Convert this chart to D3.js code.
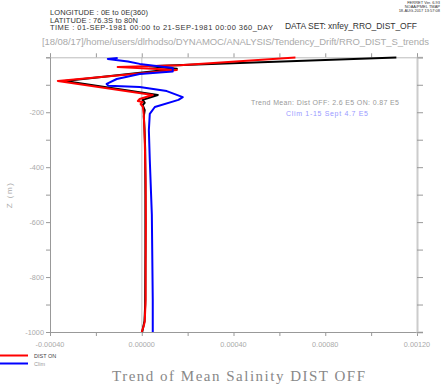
<!DOCTYPE html>
<html>
<meta charset="utf-8">
<script src="https://d3js.org/d3.v7.min.js"></script>
<style>
  body { margin: 0; background: #fff; }
</style>
<body>
<div id="chart"></div>
<script>
// ---- data (trend in psu/s, depth in m) ----
const offDepth = [1, 27, 33, 42, 86, 137, 155, 166, 174, 192, 214, 260, 337, 500, 700, 900, 960, 1000];
const offTrend = [11.1e-4, 2.1e-4, 0.35e-4, 1.53e-4, -3.36e-4, 0.70e-4, 0.04e-4, 0.13e-4, 0.04e-4, 0.13e-4, 0.09e-4, 0.12e-4, 0.15e-4, 0.16e-4, 0.16e-4, 0.15e-4, 0.12e-4, 0.02e-4];

const onDepth = [1, 29, 35, 46, 86, 137, 152, 159, 163, 170, 180, 210, 300, 446, 600, 750, 882, 962, 977, 1000];
const onTrend = [6.7e-4, 1.66e-4, -1.05e-4, 1.53e-4, -3.66e-4, 0.48e-4, -0.09e-4, -0.17e-4, 0.04e-4, -0.05e-4, 0.05e-4, 0.09e-4, 0.13e-4, 0.17e-4, 0.18e-4, 0.17e-4, 0.17e-4, 0.13e-4, 0.09e-4, 0.0];

const climDepth = [2.5, 6, 15, 24, 39, 52, 61, 79, 97, 104, 108, 123, 145, 155, 181, 206, 265, 373, 573, 882, 1000];
const climTrend = [-1.05e-4, -1.48e-4, -0.6e-4, -0.09e-4, 1.35e-4, 1.35e-4, -0.09e-4, -1.09e-4, -1.53e-4, -1.45e-4, -0.09e-4, 1.09e-4, 1.79e-4, 1.6e-4, 0.57e-4, 0.35e-4, 0.31e-4, 0.35e-4, 0.44e-4, 0.48e-4, 0.48e-4];

const xTickValues = [-0.0004, 0, 0.0004, 0.0008, 0.0012];
const xTickLabels = ["-0.00040", "0.00000", "0.00040", "0.00080", "0.00120"];
const zTickValues = [-200, -400, -600, -800, -1000];

const headerLines = ["LONGITUDE : 0E to 0E(360)", "LATITUDE : 76.3S to 80N", "TIME : 01-SEP-1981 00:00 to 21-SEP-1981 00:00 360_DAY"];
const headerWidths = [98, 88, 223];
const stampLines = ["FERRET Ver. 6.93", "NOAA/PMEL TMAP", "18-AUG-2017 13:57:08"];

// ---- layout ----
const W = 442, H = 384;
const plotL = 50, plotR = 417, plotT = 57.3, plotB = 332;
const sans = "'Liberation Sans', Arial, sans-serif";

const svg = d3.select("#chart").append("svg")
  .attr("width", W).attr("height", H)
  .style("font-family", sans);

const x = d3.scaleLinear().domain([-0.0004, 0.0012]).range([plotL, plotR]);
const y = d3.scaleLinear().domain([0, -1000]).range([plotT, plotB]);

// zero line
svg.append("line")
  .attr("x1", x(0)).attr("x2", x(0))
  .attr("y1", plotT).attr("y2", plotB)
  .attr("stroke", "#d8d8d8").attr("stroke-width", 1.5);

// axes
const minorX = d3.range(-0.0004, 0.00121, 0.0002);
const minorZ = d3.range(0, -1001, -100);

const gBottom = svg.append("g").attr("transform", "translate(0," + plotB + ")")
  .call(d3.axisBottom(x).tickValues(minorX).tickSize(4).tickFormat(""));
const gTop = svg.append("g").attr("transform", "translate(0," + plotT + ")")
  .call(d3.axisTop(x).tickValues(minorX).tickSize(4).tickFormat(""));
const gLeft = svg.append("g").attr("transform", "translate(" + plotL + ",0)")
  .call(d3.axisLeft(y).tickValues(minorZ).tickSize(4).tickFormat(""));
const gRight = svg.append("g").attr("transform", "translate(" + plotR + ",0)")
  .call(d3.axisRight(y).tickValues(minorZ).tickSize(6).tickFormat(""));

[gBottom, gTop, gLeft, gRight].forEach(function(g) {
  g.select(".domain").attr("stroke", "#999");
  g.selectAll(".tick line").attr("stroke", "#999");
});
gTop.select(".domain").attr("stroke", "#bbb");
gRight.select(".domain").attr("stroke", "#ccc").attr("stroke-width", 2);

// tick labels
svg.selectAll(".xlab").data(xTickValues).enter().append("text")
  .attr("x", function(d) { return x(d); })
  .attr("y", 347)
  .attr("text-anchor", "middle")
  .attr("font-size", 7.3)
  .attr("fill", "#aaa")
  .text(function(d, i) { return xTickLabels[i]; });

svg.selectAll(".zlab").data(zTickValues).enter().append("text")
  .attr("x", 44)
  .attr("y", function(d) { return y(d) + 2.5; })
  .attr("text-anchor", "end")
  .attr("font-size", 7.3)
  .attr("fill", "#aaa")
  .text(function(d) { return d; });

svg.append("text")
  .attr("transform", "translate(12,195) rotate(-90)")
  .attr("text-anchor", "middle")
  .attr("font-size", 8)
  .attr("letter-spacing", 1.5)
  .attr("fill", "#aaa")
  .text("Z (m)");

// profiles
const line = d3.line()
  .x(function(d) { return x(d[1]); })
  .y(function(d) { return y(-d[0]); });

function drawProfile(depth, trend, colour) {
  svg.append("path")
    .datum(depth.map(function(d, i) { return [d, trend[i]]; }))
    .attr("fill", "none")
    .attr("stroke", colour)
    .attr("stroke-width", 2)
    .attr("stroke-linejoin", "round")
    .attr("d", line);
}
drawProfile(offDepth, offTrend, "#000");
drawProfile(onDepth, onTrend, "#f00");
drawProfile(climDepth, climTrend, "#00f");

// header text
svg.selectAll(".hdr").data(headerLines).enter().append("text")
  .attr("x", 50)
  .attr("y", function(d, i) { return 15 + i * 7.7; })
  .attr("font-size", 7.5)
  .attr("fill", "#333")
  .attr("textLength", function(d, i) { return headerWidths[i]; })
  .text(function(d) { return d; });

svg.append("text")
  .attr("x", 285).attr("y", 29)
  .attr("font-size", 8.5).attr("fill", "#333")
  .attr("textLength", 132)
  .text("DATA SET: xnfey_RRO_DIST_OFF");

svg.append("text")
  .attr("x", 42).attr("y", 45)
  .attr("font-size", 9.5).attr("fill", "#aaa")
  .attr("textLength", 387)
  .text("[18/08/17]/home/users/dlrhodso/DYNAMOC/ANALYSIS/Tendency_Drift/RRO_DIST_S_trends");

svg.selectAll(".stamp").data(stampLines).enter().append("text")
  .attr("x", 440)
  .attr("y", function(d, i) { return 3.5 + i * 4.3; })
  .attr("text-anchor", "end")
  .attr("font-size", 4)
  .attr("fill", "#333")
  .text(function(d) { return d; });

// annotations
svg.append("text")
  .attr("x", 251).attr("y", 104.5)
  .attr("font-size", 7).attr("fill", "#999")
  .attr("textLength", 148)
  .text("Trend Mean: Dist OFF: 2.6 E5 ON: 0.87 E5");

svg.append("text")
  .attr("x", 286).attr("y", 115.5)
  .attr("font-size", 7).attr("fill", "#99f")
  .attr("textLength", 82)
  .text("Clim 1-15 Sept 4.7 E5");

// legend
const legend = [["DIST ON", "#f00", "#444"], ["Clim", "#00f", "#999"]];
legend.forEach(function(l, i) {
  const ly = 355.5 + i * 8;
  svg.append("line")
    .attr("x1", 0).attr("x2", 28).attr("y1", ly).attr("y2", ly)
    .attr("stroke", l[1]).attr("stroke-width", 2);
  svg.append("text")
    .attr("x", 34).attr("y", ly + 2)
    .attr("font-size", 5.5).attr("fill", l[2])
    .text(l[0]);
});

// title
svg.append("text")
  .attr("x", 112).attr("y", 381)
  .style("font-family", "'Liberation Serif', 'DejaVu Serif', serif")
  .attr("font-size", 15)
  .attr("fill", "#888")
  .attr("textLength", 253)
  .text("Trend of Mean Salinity DIST OFF");
</script>
</body>
</html>
